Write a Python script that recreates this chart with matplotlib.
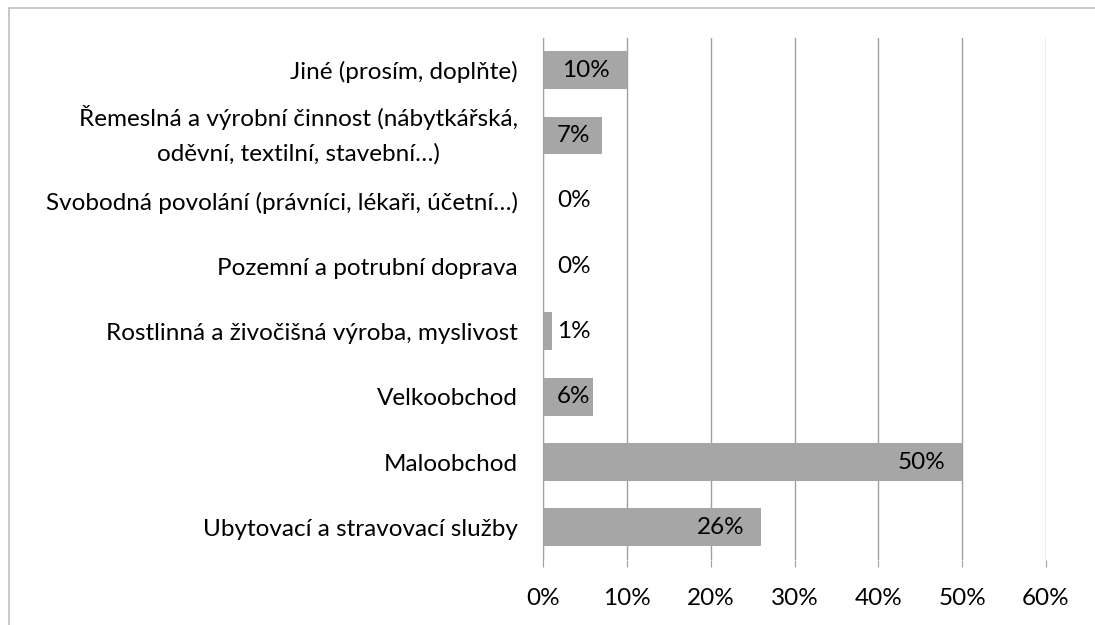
import matplotlib
matplotlib.use("Agg")
import matplotlib.pyplot as plt
import matplotlib.transforms as mtransforms
from matplotlib.patches import Rectangle
from matplotlib.ticker import PercentFormatter

plt.rcParams['font.family'] = ['Lato', 'DejaVu Sans']

categories = [
    "Ubytovací a stravovací služby",
    "Maloobchod",
    "Velkoobchod",
    "Rostlinná a živočišná výroba, myslivost",
    "Pozemní a potrubní doprava",
    "Svobodná povolání (právníci, lékaři, účetní…)",
    "Řemeslná a výrobní činnost (nábytkářská,\noděvní, textilní, stavební…)",
    "Jiné (prosím, doplňte)",
]
values = [0.26, 0.50, 0.06, 0.011, 0.0, 0.0, 0.07, 0.10]
value_labels = ["26%", "50%", "6%", "1%", "0%", "0%", "7%", "10%"]

bar_color = "#a6a6a6"
grid_color = "#a0a0a0"
fsize = 17.5

fig = plt.figure(figsize=(10.95, 6.25), dpi=100)
ax = fig.add_axes([0.4959, 0.104, 0.4594, 0.836])

# outer chart frame (only left and top edges visible)
fig.patches.append(Rectangle((9 / 1095, -0.1), 1.2, 1 - 8 / 625 + 0.1,
                             transform=fig.transFigure, fill=False,
                             edgecolor="#bfbfbf", linewidth=1.2))

y = range(len(categories))
ax.barh(y, values, height=0.58, color=bar_color, zorder=2)

ax.set_xlim(0, 0.6)
ax.set_ylim(-0.5, len(categories) - 0.5)
ax.set_xticks([0, 0.1, 0.2, 0.3, 0.4, 0.5, 0.6])
ax.xaxis.set_major_formatter(PercentFormatter(1.0, decimals=0))
ax.set_yticks(list(y))
ax.set_yticklabels(categories, multialignment="center", linespacing=1.75)
ax.tick_params(axis="y", length=0, pad=18, labelsize=fsize)
ax.tick_params(axis="x", length=5, color=grid_color, pad=15, labelsize=fsize)
ax.grid(axis="x", color=grid_color, linewidth=1.0, zorder=0)
for side in ["top", "right", "bottom"]:
    ax.spines[side].set_visible(False)
ax.spines["left"].set_color(grid_color)

# nudge the two-line label up so it sits centred on its bar
for t in ax.get_yticklabels():
    if "\n" in t.get_text():
        t.set_transform(t.get_transform() +
                        mtransforms.ScaledTranslation(0, 0.09, fig.dpi_scale_trans))

# value labels at the inner end of each bar, with a minimum position for tiny bars
for i, (v, lab) in enumerate(zip(values, value_labels)):
    xpos = max(v, 0.0764)
    ax.annotate(lab, xy=(xpos, i), xytext=(-12, 0), textcoords="offset points",
                ha="right", va="center", fontsize=fsize, color="#000000", zorder=3)

fig.savefig("out.png", dpi=100)
